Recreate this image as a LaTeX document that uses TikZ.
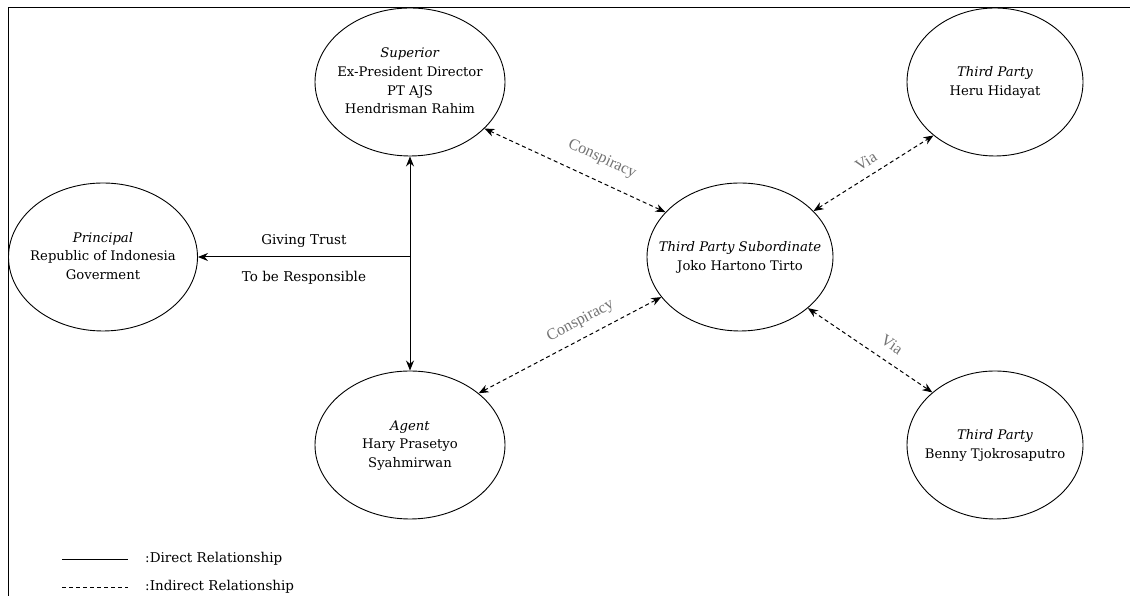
\documentclass[tikz,border=0pt]{standalone}
\usepackage{fontspec}
\setmainfont{DejaVu Serif}
\newfontfamily\lblfont{Liberation Serif}
\usetikzlibrary{arrows.meta,shapes.geometric}
\newcommand\ellcontent[1]{\makebox[0pt]{\begin{tabular}{@{}c@{}}#1\end{tabular}}}
\begin{document}
\begin{tikzpicture}[x=1pt,y=1pt,
  actor/.style={draw, ellipse, line width=0.9pt, minimum width=190pt, minimum height=148pt,
    inner sep=0pt, font=\fontsize{13.2}{18.7}\selectfont},
  solidrel/.style={line width=1pt, -{Stealth[length=10pt,width=8pt]}},
  dashrel/.style={line width=1pt, dash pattern=on 4pt off 3pt,
    {Stealth[length=10pt,width=8pt]}-{Stealth[length=10pt,width=8pt]}},
  lbl/.style={text=black!55, font=\lblfont\fontsize{16}{18}\selectfont, inner sep=2pt},
  mainlbl/.style={font=\fontsize{13.5}{16}\selectfont},
  legtext/.style={anchor=west, font=\fontsize{13.5}{16}\selectfont, inner sep=0pt}]
\useasboundingbox (0,0) rectangle (1130,596);
\fill[white] (0,0) rectangle (1130,596);
% frame
\draw[line width=0.9pt] (8,0) -- (8,589) -- (1130,589);
% nodes
\node[actor] (sup) at (410,514) {\ellcontent{\textit{Superior}\\Ex-President Director\\PT AJS\\Hendrisman Rahim}};
\node[actor, minimum width=189pt] (pri) at (103,339) {\ellcontent{\textit{Principal}\\Republic of Indonesia\\Goverment}};
\node[actor] (agt) at (410,151) {\ellcontent{\textit{Agent}\\Hary Prasetyo\\Syahmirwan}};
\node[actor, minimum width=186pt] (tps) at (740,339) {\ellcontent{\textit{Third Party Subordinate}\\Joko Hartono Tirto}};
\node[actor, minimum width=176pt] (heru) at (995,514) {\ellcontent{\textit{Third Party}\\Heru Hidayat}};
\node[actor, minimum width=176pt] (benny) at (995,151) {\ellcontent{\textit{Third Party}\\Benny Tjokrosaputro}};
% solid relations
\coordinate (hub) at (410,339);
\draw[solidrel] (hub) -- (sup.south);
\draw[solidrel] (hub) -- (agt.north);
\draw[solidrel] (hub) -- node[mainlbl, above=6pt] {Giving Trust}
                          node[mainlbl, below=10pt] {To be Responsible} (pri.east);
% dashed relations
\draw[dashrel] (sup.-32) -- node[lbl, sloped, above=12pt, pos=0.6] {Conspiracy} (tps.149);
\draw[dashrel] (agt.37) -- node[lbl, sloped, above=7pt, pos=0.6] {Conspiracy} (tps.207);
\draw[dashrel] (tps.32) -- node[lbl, sloped, above=6pt, pos=0.5] {Via} (heru.221);
\draw[dashrel] (tps.-37) -- node[lbl, sloped, above=9pt, pos=0.6] {Via} (benny.140);
% legend
\coordinate (l1a) at (62,37);
\coordinate (l1b) at (128,37);
\coordinate (l2a) at (62,9);
\coordinate (l2b) at (128,9);
\draw[line width=0.9pt] (l1a) -- (l1b);
\draw[line width=0.9pt, dash pattern=on 4pt off 3pt] (l2a) -- (l2b);
\node[legtext] (lg1) at (145,37) {:Direct Relationship};
\node[legtext] (lg2) at (145,9) {:Indirect Relationship};
\end{tikzpicture}
\end{document}
